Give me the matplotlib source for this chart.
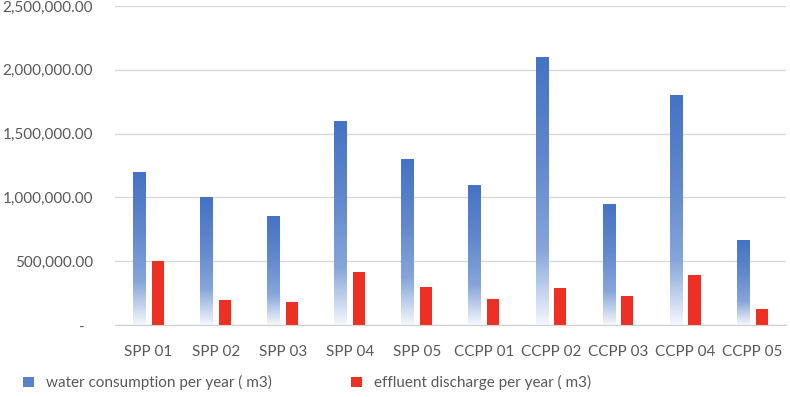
import numpy as np
import matplotlib
matplotlib.use("Agg")
import matplotlib.pyplot as plt
from matplotlib.colors import LinearSegmentedColormap
from matplotlib.patches import Patch
from matplotlib.ticker import FuncFormatter

# data
plants = ["SPP 01", "SPP 02", "SPP 03", "SPP 04", "SPP 05",
          "CCPP 01", "CCPP 02", "CCPP 03", "CCPP 04", "CCPP 05"]
water = [1200000, 1000000, 855000, 1600000, 1300000,
         1100000, 2100000, 950000, 1800000, 665000]
effluent = [500000, 200000, 185000, 415000, 300000,
            205000, 290000, 227000, 395000, 125000]

plt.rcParams['font.family'] = ['Lato', 'DejaVu Sans']
grey = '#595959'

fig = plt.figure(figsize=(7.9, 3.97), dpi=100)
ax = fig.add_axes([0.1456, 0.181, 0.849, 0.804])

x = np.arange(len(plants))
w = 0.18

blue_cmap = LinearSegmentedColormap.from_list(
    "blu", [(0.0, '#f5f7fc'), (0.28, '#86a6da'), (0.6, '#6389cd'), (1.0, '#4472c4')])
grad = np.linspace(0, 1, 256).reshape(-1, 1)

bars = ax.bar(x - 0.14, water, w, facecolor='none', edgecolor='none', zorder=2)
for b in bars:
    im = ax.imshow(grad, cmap=blue_cmap, origin='lower', aspect='auto',
                   extent=[b.get_x(), b.get_x() + b.get_width(), 0, b.get_height()],
                   zorder=2)
    im.set_clip_path(b)

ax.bar(x + 0.14, effluent, w, color='#ee3024', zorder=2)

ax.set_xlim(-0.5, len(plants) - 0.5)
ax.set_ylim(0, 2500000)
ax.set_yticks(np.arange(0, 2500001, 500000))
ax.yaxis.set_major_formatter(FuncFormatter(
    lambda v, p: "-  " if v == 0 else f"{v:,.2f}"))
ax.set_xticks(x)
ax.set_xticklabels(plants)

ax.grid(axis='y', color='#d9d9d9', linewidth=1, zorder=0)
ax.set_axisbelow(True)
for s in ['top', 'right', 'left']:
    ax.spines[s].set_visible(False)
ax.spines['bottom'].set_color('#d0d0d0')
ax.tick_params(axis='both', length=0, colors=grey, labelsize=11)
ax.tick_params(axis='y', pad=16)
ax.tick_params(axis='x', pad=14)

handles = [Patch(facecolor='#5a82c9', label='water consumption per year ( m3)'),
           Patch(facecolor='#ee3024', label='effluent discharge per year ( m3)')]
leg = fig.legend(handles=handles, loc='lower left', bbox_to_anchor=(0.012, -0.018),
                 ncol=2, frameon=False, fontsize=11, handlelength=0.7,
                 handleheight=0.7, columnspacing=5.2, handletextpad=0.8)
for t in leg.get_texts():
    t.set_color(grey)

fig.savefig("out.png", dpi=100)
